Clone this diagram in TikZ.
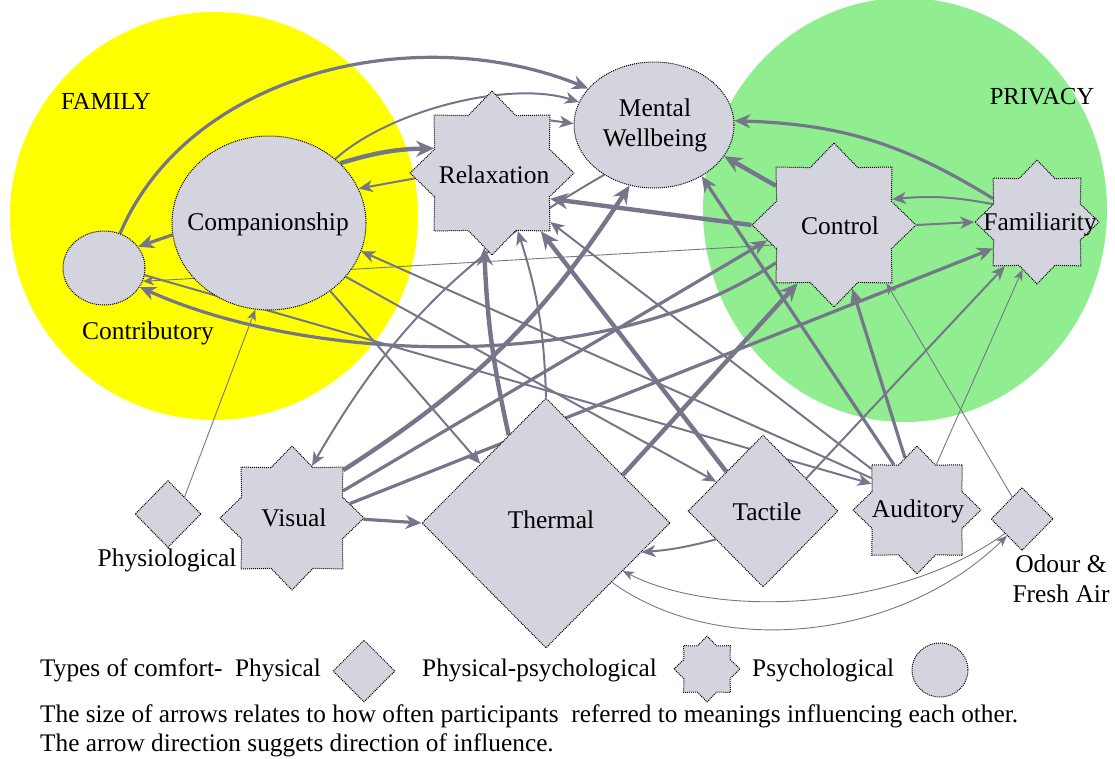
\documentclass[tikz,border=0pt]{standalone}
\usepackage{fontspec}
\setmainfont{Liberation Serif}
\usetikzlibrary{shapes.geometric,arrows.meta}
\definecolor{famzone}{RGB}{255,255,0}
\definecolor{privzone}{RGB}{144,238,144}
\definecolor{nodefill}{RGB}{212,212,222}
\definecolor{linkcol}{RGB}{118,118,138}
\pgfdeclarelayer{zones}
\pgfdeclarelayer{links}
\pgfsetlayers{zones,links,main}
\tikzset{
  meaning/.style={draw=black, densely dotted, line width=1pt, fill=nodefill, inner sep=0pt},
  psynode/.style={meaning, ellipse},
  mixnode/.style={meaning, star, star points=8, star point ratio=1.32},
  physnode/.style={meaning, diamond},
  lbl/.style={font=\fontsize{25.5}{30}\selectfont, inner sep=0pt, align=center},
  zonelbl/.style={font=\fontsize{24.5}{28}\selectfont, inner sep=0pt},
  legtext/.style={font=\fontsize{25.3}{29}\selectfont, anchor=west, inner sep=0pt},
  link/.style={draw=linkcol, solid},
  wA/.style={link, line width=0.9pt, -{Stealth[length=11pt,width=9pt,inset=3pt]}},
  wB/.style={link, line width=2pt, -{Stealth[length=14pt,width=12pt,inset=4pt]}},
  wC/.style={link, line width=3.2pt, -{Stealth[length=16pt,width=14pt,inset=5pt]}},
  wD/.style={link, line width=4.4pt, -{Stealth[length=18pt,width=16pt,inset=6pt]}},
}
\begin{document}
\begin{tikzpicture}[x=1pt,y=-1pt]
\useasboundingbox (0,0) rectangle (1115,758);

% meanings: psychological (ellipses), physical-psychological (stars), physical (diamonds)
\node[psynode, minimum width=82pt, minimum height=74pt] (contrib) at (104,268) {};
\node[psynode, minimum width=194pt, minimum height=174pt] (comp) at (269,223) {};
\node[psynode, minimum width=160pt, minimum height=126pt] (mw) at (654,125) {};
\node[mixnode, minimum size=164pt] (relax) at (492,173) {};
\node[mixnode, minimum size=164pt] (ctrl) at (834,225) {};
\node[mixnode, minimum size=124pt] (fam) at (1037,222) {};
\node[mixnode, minimum size=144pt] (vis) at (292,518) {};
\node[mixnode, minimum size=128pt] (aud) at (917,510) {};
\node[physnode, minimum width=248pt, minimum height=250pt] (therm) at (546,523) {};
\node[physnode, minimum width=150pt, minimum height=152pt] (tact) at (763,511) {};
\node[physnode, minimum width=66pt, minimum height=67pt] (phys) at (168,514) {};
\node[physnode, minimum width=62pt, minimum height=63pt] (odour) at (1022,519) {};

% labels
\node[lbl] (contribT) at (148,333) {Contributory};
\node[lbl] (compT) at (268,224) {Companionship};
\node[lbl] (mwT) at (655,125) {Mental\\Wellbeing};
\node[lbl] (relaxT) at (494,175) {Relaxation};
\node[lbl] (ctrlT) at (840,226) {Control};
\node[lbl] (famT) at (1040,224) {Familiarity};
\node[lbl] (visT) at (294,518) {Visual};
\node[lbl] (thermT) at (551,520) {Thermal};
\node[lbl] (tactT) at (767,512) {Tactile};
\node[lbl] (audT) at (918,511) {Auditory};
\node[lbl] (physT) at (167,560) {Physiological};
\node[lbl] (odourT) at (1061,579) {Odour \&\\Fresh Air};

% influence links
\begin{pgfonlayer}{links}
\draw[wC] (contrib.65) .. controls (190,70) and (420,20) .. (mw.151);
\draw[wC] (comp.187) -- (contrib.32);
\draw[wB] (comp.44) .. controls (390,110) and (510,80) .. (mw.163);
\draw[wD] (comp.40) to[bend left=8] (relax.157);
\draw[wB] (relax.184) -- (comp.21);
\draw[wB] (relax.42) -- (mw.179);
\draw[wC] (fam.152) to[bend right=15] (mw.3);
\draw[wD] (ctrl.146) -- (mw.-24);
\draw[wB] (fam.158) to[bend right=8] (ctrl.24);
\draw[wB] (ctrl.0) -- (fam.180);
\draw[wD] (ctrl.180) -- (relax.-24);
\draw[wC] (vis.28) -- (ctrl.193);
\draw[wD] (vis.43) to[bend right=12] (mw.248);
\draw[wC] (vis.14) -- (fam.211);
\draw[wC] (vis.-1) -- (therm.180);
\draw[wB] (mw.225) to[bend right=15] (vis.69);
\draw[wB] (comp.-48) -- (therm.138);
\draw[wD] (therm.113) to[bend left=5] (relax.-96);
\draw[wB] (therm.90) to[bend right=8] (relax.-66);
\draw[wD] (therm.32) -- (ctrl.238);
\draw[wD] (tact.133) -- (relax.-50);
\draw[wB] (tact.37) -- (fam.234);
\draw[wB] (tact.211) to[bend left=5] (therm.-17);
\draw[wB] (aud.138) -- (relax.-40);
\draw[wC] (aud.117) -- (mw.-47);
\draw[wC] (aud.103) -- (ctrl.-74);
\draw[wB] (aud.145) -- (comp.-17);
\draw[wA] (aud.67) -- (fam.253);
\draw[wA] (odour.114) -- (ctrl.-48);
\draw[wA] (odour.220) .. controls (900,610) and (720,620) .. (therm.-32);
\draw[wA] (therm.-42) .. controls (720,660) and (900,640) .. (odour.228);
\draw[wA] (phys.46) -- (comp.261);
\draw[wC] (ctrl.213) .. controls (600,380) and (300,360) .. (contrib.-28);
\draw[wA] (ctrl.198) -- (contrib.-19);
\draw[wB] (contrib.-10) -- (aud.150);
\draw[wB] (comp.-35) -- (tact.148);
\end{pgfonlayer}

% comfort zones
\begin{pgfonlayer}{zones}
\fill[famzone] (214,216) circle[radius=204pt];
\fill[privzone] (905,210) ellipse[x radius=202pt, y radius=212pt];
\end{pgfonlayer}
\node[zonelbl] (famzoneT) at (106,101) {FAMILY};
\node[zonelbl] (privzoneT) at (1042,97) {PRIVACY};

% legend
\node[legtext] (legA) at (40,670) {Types of comfort-~ Physical};
\node[physnode, minimum width=62pt, minimum height=62pt] (legPhys) at (364,671) {};
\node[legtext] (legB) at (422,670) {Physical-psychological};
\node[mixnode, minimum size=66pt] (legMix) at (707,669) {};
\node[legtext] (legC) at (752,670) {Psychological};
\node[psynode, minimum width=56pt, minimum height=54pt] (legPsy) at (940,670) {};
\node[legtext] (legD) at (40,716) {The size of arrows relates to how often participants~ referred to meanings influencing each other.};
\node[legtext] (legE) at (40,745) {The arrow direction suggets direction of influence.};
\end{tikzpicture}
\end{document}
